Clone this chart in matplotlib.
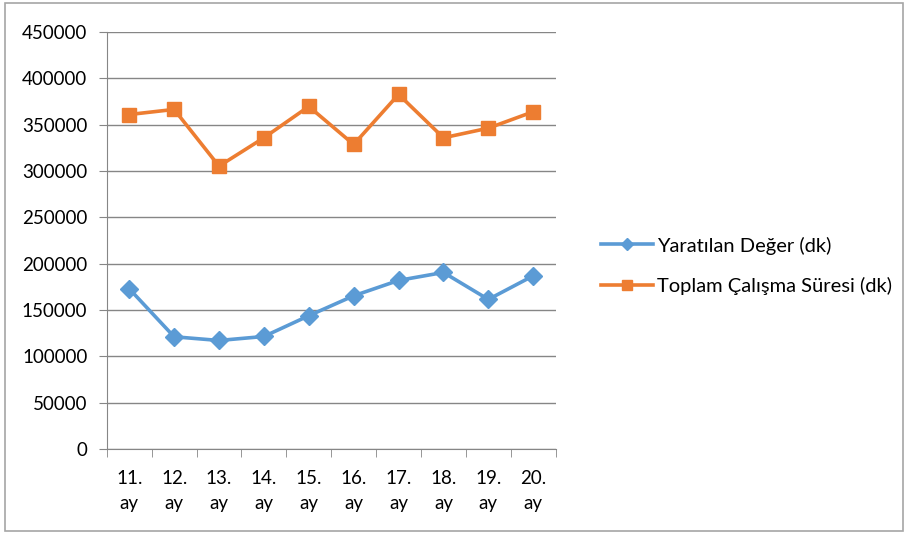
import matplotlib.pyplot as plt
from matplotlib.patches import Rectangle
from matplotlib.ticker import FixedLocator, NullFormatter

plt.rcParams['font.family'] = ['Lato', 'DejaVu Sans']

months = ['11.\nay', '12.\nay', '13.\nay', '14.\nay', '15.\nay',
          '16.\nay', '17.\nay', '18.\nay', '19.\nay', '20.\nay']
yaratilan = [173000, 121200, 117200, 121500, 143900,
             165400, 182000, 190600, 161500, 187000]
toplam = [361000, 366500, 305300, 335900, 369700,
          328700, 382700, 335900, 346300, 364000]
yticks = list(range(0, 450001, 50000))

fig = plt.figure(figsize=(9.05, 5.34), dpi=100)
ax = fig.add_axes([0.118, 0.159, 0.496, 0.781])

x = list(range(len(months)))
ax.plot(x, yaratilan, color='#5B9BD5', lw=2.6, marker='D', ms=9,
        label='Yaratılan Değer (dk)')
ax.plot(x, toplam, color='#ED7D31', lw=2.6, marker='s', ms=10,
        label='Toplam Çalışma Süresi (dk)')

ax.set_xlim(-0.5, len(months) - 0.5)
ax.set_ylim(0, 450000)
ax.set_yticks(yticks)
ax.set_yticklabels([str(v) for v in yticks])
ax.set_xticks(x)
ax.set_xticklabels(months, linespacing=1.55)
ax.xaxis.set_minor_locator(FixedLocator([i - 0.5 for i in range(len(months) + 1)]))
ax.xaxis.set_minor_formatter(NullFormatter())
ax.tick_params(axis='x', which='major', length=0, pad=15, labelsize=13.5)
ax.tick_params(axis='x', which='minor', length=6, color='#868686', direction='out')
ax.tick_params(axis='y', length=6, color='#868686', pad=8, labelsize=13.5)

ax.grid(axis='y', color='#868686', lw=1)
ax.set_axisbelow(True)
for s in ['top', 'right']:
    ax.spines[s].set_visible(False)
for s in ['left', 'bottom']:
    ax.spines[s].set_color('#868686')

ax.legend(loc='center left', bbox_to_anchor=(1.06, 0.44), frameon=False,
          fontsize=14.5, handlelength=2.6, handletextpad=0.2, labelspacing=1.1,
          markerscale=0.7)

fig.patches.append(Rectangle((5 / 905, 3 / 534), 898 / 905, 528 / 534,
                             transform=fig.transFigure, fill=False,
                             edgecolor='#a6a6a6', lw=1.2))

fig.savefig('out.png', dpi=100)
